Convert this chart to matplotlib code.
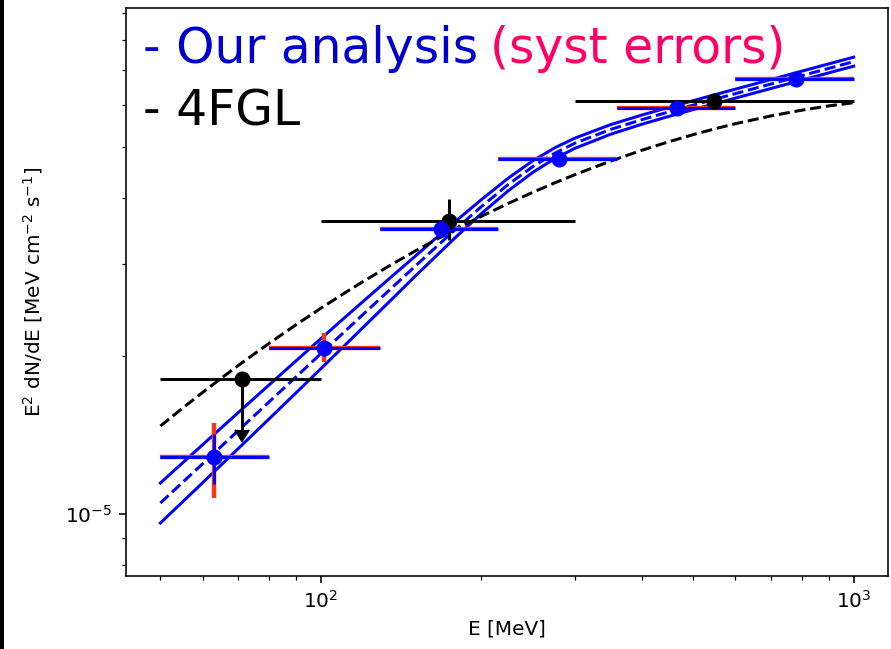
import numpy as np
import matplotlib
matplotlib.use('Agg')
import matplotlib.pyplot as plt
from matplotlib.patches import Rectangle
from matplotlib.ticker import NullFormatter

# --- our analysis: binned points (MeV, MeV cm-2 s-1) ---
bin_center = [63, 101.5, 168, 280, 466, 778]
bin_low = [50, 80, 129, 215, 359, 599]
bin_high = [80, 129, 215, 359, 599, 1000]
flux = [1.285e-5, 2.07e-5, 3.49e-5, 4.74e-5, 5.93e-5, 6.75e-5]
stat_lo = [0.145e-5, 0.07e-5, 0.06e-5, 0.08e-5, 0.09e-5, 0.10e-5]
stat_hi = [0.134e-5, 0.07e-5, 0.06e-5, 0.08e-5, 0.09e-5, 0.10e-5]
syst_lo = [0.212e-5, 0.12e-5, 0.08e-5, 0.10e-5, 0.11e-5, 0.12e-5]
syst_hi = [0.205e-5, 0.14e-5, 0.08e-5, 0.10e-5, 0.11e-5, 0.12e-5]

# energies at which the model curves were read (MeV)
curve_E = [50, 55, 60, 65, 70, 75, 80, 90, 100, 110, 120, 135, 150, 165, 180,
           200, 225, 250, 275, 300, 350, 400, 450, 500, 550, 600, 700, 800,
           900, 1000]

# --- our analysis: fitted model and its band (units of 1e-5) ---
model_mid = [1.0494, 1.1482, 1.2464, 1.3445, 1.4419, 1.5388, 1.6355, 1.8277,
             2.0195, 2.2094, 2.3985, 2.6792, 2.9580, 3.2326, 3.5024, 3.8475,
             4.2463, 4.5898, 4.8678, 5.0857, 5.4017, 5.6364, 5.8334, 6.0094,
             6.1701, 6.3198, 6.5936, 6.8395, 7.0643, 7.2709]
model_up = [1.1456, 1.2507, 1.3547, 1.4581, 1.5603, 1.6615, 1.7621, 1.9605,
            2.1568, 2.3493, 2.5393, 2.8178, 3.0905, 3.3627, 3.6274, 3.9674,
            4.3652, 4.7080, 4.9845, 5.2007, 5.5167, 5.7514, 5.9497, 6.1292,
            6.2931, 6.4458, 6.7250, 6.9758, 7.2051, 7.4158]
model_lo = [0.9613, 1.0541, 1.1468, 1.2398, 1.3325, 1.4251, 1.5180, 1.7039,
            1.8909, 2.0779, 2.2655, 2.5474, 2.8311, 3.1075, 3.3817, 3.7312,
            4.1306, 4.4745, 4.7538, 4.9732, 5.2892, 5.5238, 5.7194, 5.8920,
            6.0495, 6.1963, 6.4647, 6.7058, 6.9263, 7.1288]

# --- 4FGL catalogue ---
fgl_center = [71, 174, 548]
fgl_low = [50, 100, 300]
fgl_high = [100, 300, 1000]
fgl_flux = [1.807e-5, 3.61e-5, 6.12e-5]
fgl_err_lo = [0.0, 0.29e-5, 0.08e-5]
fgl_err_hi = [0.0, 0.37e-5, 0.08e-5]
fgl_is_ul = [True, False, False]
fgl_ul_len = 0.36e-5

# 4FGL log-parabola read at curve_E (units of 1e-5)
fgl_model = [1.471, 1.590, 1.704, 1.813, 1.918, 2.018, 2.114, 2.296, 2.465,
             2.623, 2.771, 2.977, 3.164, 3.337, 3.495, 3.689, 3.906, 4.100,
             4.274, 4.431, 4.702, 4.928, 5.118, 5.280, 5.419, 5.539, 5.732,
             5.879, 5.990, 6.074]

BLUE = '#0000ff'
RED = '#ff3311'
SCALE = 1e-5


def xerr_from(center, low, high):
    c = np.array(center, dtype=float)
    return [c - np.array(low), np.array(high) - c]


def plot_sed():
    fig = plt.figure(figsize=(891 / 144, 649 / 144), dpi=144)
    ax = fig.add_axes([126 / 891, 73 / 649, 762 / 891, 568 / 649])

    # model band
    ax.plot(curve_E, np.array(model_up) * SCALE, '-', color=BLUE, lw=1.5)
    ax.plot(curve_E, np.array(model_lo) * SCALE, '-', color=BLUE, lw=1.5)
    ax.plot(curve_E, np.array(model_mid) * SCALE, '--', color=BLUE, lw=1.5)

    # 4FGL log-parabola
    ax.plot(curve_E, np.array(fgl_model) * SCALE, '--', color='k', lw=1.5)

    # 4FGL points
    xe = xerr_from(fgl_center, fgl_low, fgl_high)
    ax.errorbar(fgl_center, fgl_flux, xerr=xe, yerr=[fgl_err_lo, fgl_err_hi],
                fmt='o', color='k', ms=7, lw=1.5)
    ul = [i for i, f in enumerate(fgl_is_ul) if f]
    ax.errorbar([fgl_center[i] for i in ul], [fgl_flux[i] for i in ul],
                yerr=fgl_ul_len, uplims=True, fmt='none', ecolor='k',
                color='k', capsize=3.5, lw=1.5)

    # our points: systematic (red) under statistical (blue)
    xe = xerr_from(bin_center, bin_low, bin_high)
    ax.errorbar(bin_center, flux, xerr=xe, yerr=[syst_lo, syst_hi],
                fmt='none', ecolor=RED, lw=2.2)
    ax.errorbar(bin_center, flux, xerr=xe, yerr=[stat_lo, stat_hi],
                fmt='o', color=BLUE, ms=7, lw=1.5)

    ax.set_xscale('log')
    ax.set_yscale('log')
    ax.set_xlim(43.1, 1160)
    ax.set_ylim(7.62e-6, 9.2e-5)
    ax.xaxis.set_minor_formatter(NullFormatter())
    ax.yaxis.set_minor_formatter(NullFormatter())
    ax.set_xlabel('E [MeV]')
    ax.set_ylabel(r'E$^2$ dN/dE [MeV cm$^{-2}$ s$^{-1}$]', labelpad=10)

    # hand-made legend
    t1 = fig.text(143 / 891, 1 - 63 / 649, '- Our analysis', color='#0000cc',
                  fontsize=24.4, va='baseline')
    fig.text(143 / 891, 1 - 125 / 649, '- 4FGL', color='k',
             fontsize=24.4, va='baseline')
    ax.annotate('(syst errors)', xy=(1, 0), xycoords=t1, xytext=(6, 0),
                textcoords='offset points', va='bottom', ha='left',
                color='#ff0066', fontsize=24.4)

    # dark strip at the left edge of the screenshot
    fig.patches.append(Rectangle((0, 0), 3 / 891, 1, color='k',
                                 transform=fig.transFigure, figure=fig))

    fig.savefig('out.png', dpi=144)


if __name__ == '__main__':
    plot_sed()
